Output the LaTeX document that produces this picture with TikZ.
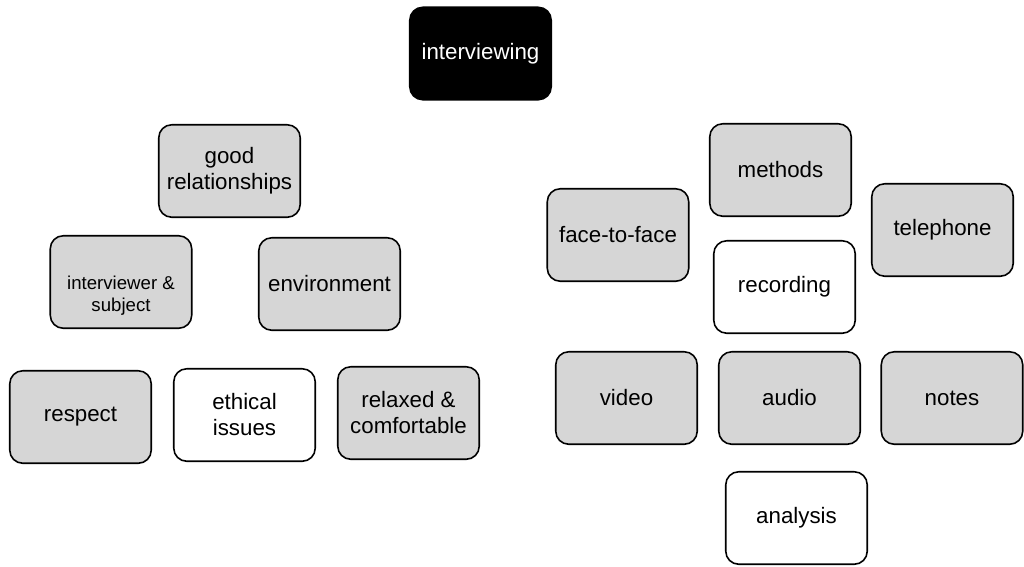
\documentclass[tikz,border=0pt]{standalone}
\usepackage{fontspec}
\setmainfont{Liberation Sans}
\definecolor{boxgray}{RGB}{214,214,214}
\begin{document}
\begin{tikzpicture}[x=0.02cm,y=-0.02cm,
  topic/.style={draw=black, line width=0.9pt, rounded corners=0.26cm, fill=boxgray,
    minimum width=2.83cm, minimum height=1.85cm, align=center,
    font=\fontsize{12.7}{14.8}\selectfont},
  plainbox/.style={topic, fill=white},
  rootbox/.style={topic, fill=black, text=white},
  smalltext/.style={font=\fontsize{10.6}{12.5}\selectfont}]
\useasboundingbox (0,0) rectangle (1024,566);
\node[rootbox] (interviewing) at (480.5,53.5) {interviewing};
\node[topic] (goodrel) at (229.5,171) {good\\relationships};
\node[topic, smalltext] (intsubj) at (121,282) {\mbox{}\\[11pt]interviewer \&\\subject};
\node[topic] (environment) at (329.5,284) {environment};
\node[topic] (respect) at (80.5,417) {respect};
\node[plainbox] (ethical) at (244.5,415) {ethical\\issues};
\node[topic] (relaxed) at (408.5,413) {relaxed \&\\comfortable};
\node[topic] (methods) at (780.5,170) {methods};
\node[topic] (facetoface) at (618,235) {face-to-face};
\node[topic] (telephone) at (942.5,230) {telephone};
\node[plainbox] (recording) at (784.5,287) {recording};
\node[topic] (video) at (626.5,398) {video};
\node[topic] (audio) at (789.5,398) {audio};
\node[topic] (notes) at (952,398) {notes};
\node[plainbox] (analysis) at (796.5,518) {analysis};
\end{tikzpicture}
\end{document}
